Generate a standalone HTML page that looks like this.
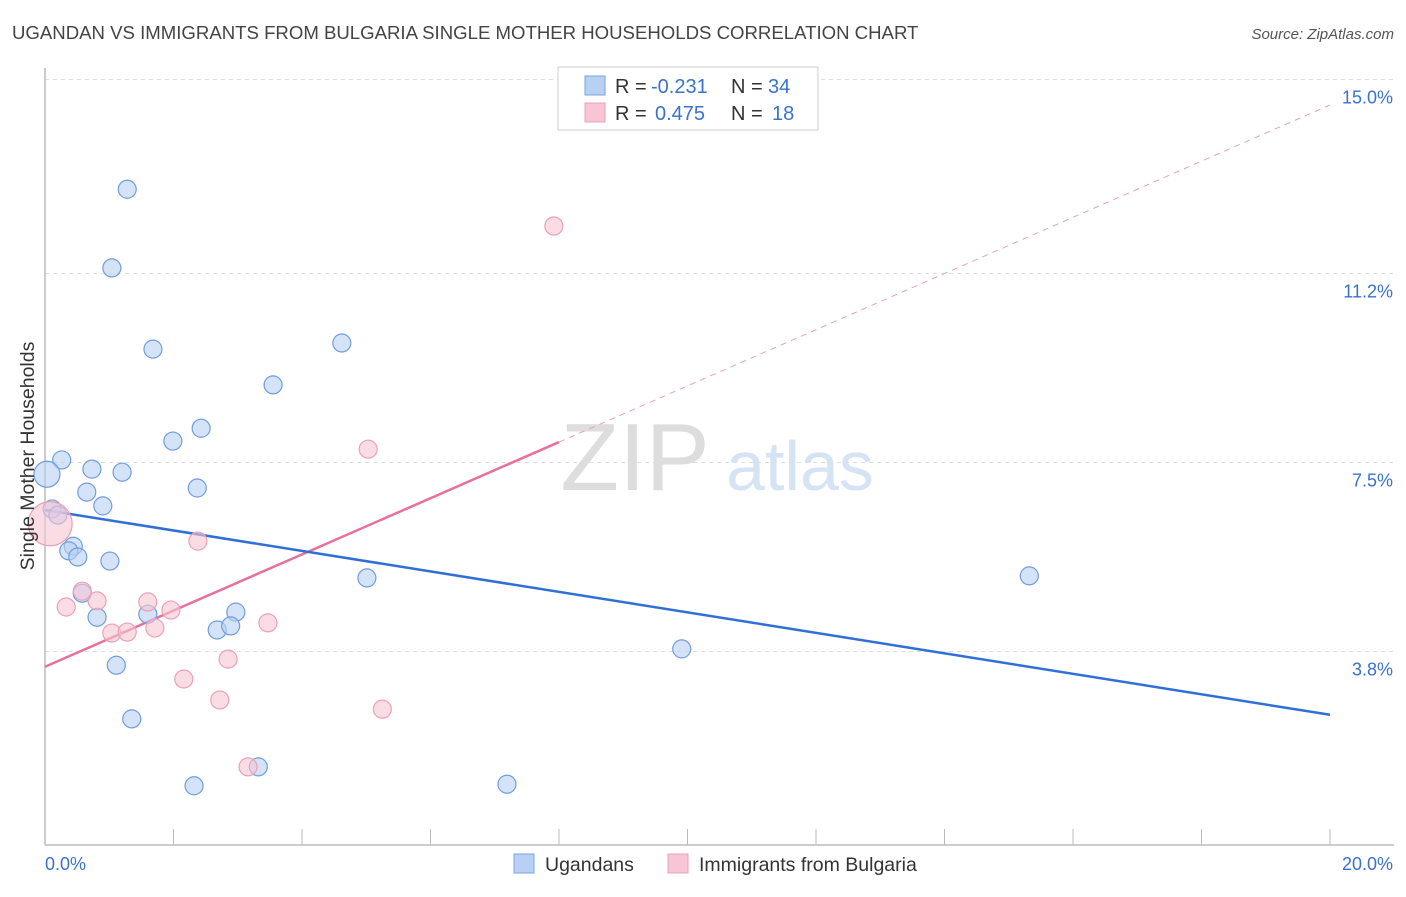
<!DOCTYPE html>
<html><head><meta charset="utf-8"><style>
body{margin:0;background:#fff;font-family:"Liberation Sans",sans-serif}
svg text{font-family:"Liberation Sans",sans-serif}
</style></head><body>
<svg width="1406" height="892" viewBox="0 0 1406 892" xmlns="http://www.w3.org/2000/svg">
<text x="12" y="39" font-size="18.6" fill="#444">UGANDAN VS IMMIGRANTS FROM BULGARIA SINGLE MOTHER HOUSEHOLDS CORRELATION CHART</text>
<text x="1394" y="39" font-size="15" fill="#555" text-anchor="end" font-style="italic">Source: ZipAtlas.com</text>
<text x="635" y="490" font-size="96" fill="#ddd" text-anchor="middle" font-family="Liberation Serif">ZIP</text>
<text x="800" y="490" font-size="70" fill="#d6e3f5" text-anchor="middle">atlas</text>
<g id="grid"></g>
<g id="axes"></g>
<g id="lines"></g>
<g id="pts"></g>
<text transform="translate(34,456) rotate(-90)" font-size="19.5" fill="#333" text-anchor="middle">Single Mother Households</text>
<g>
<rect x="558" y="67" width="260" height="63" fill="#fff" stroke="#ccc"/>
<rect x="585" y="76" width="20" height="19" fill="#b8d0f2" stroke="#7aa3e0"/>
<text x="615" y="93" font-size="20" fill="#333">R =</text>
<text x="651" y="93" font-size="20" fill="#3a72d0">-0.231</text>
<text x="731" y="93" font-size="20" fill="#333">N =</text>
<text x="768" y="93" font-size="20" fill="#3a72d0">34</text>
<rect x="585" y="103" width="20" height="19" fill="#f7c5d3" stroke="#eca0b8"/>
<text x="615" y="120" font-size="20" fill="#333">R =</text>
<text x="655" y="120" font-size="20" fill="#3a72d0">0.475</text>
<text x="731" y="120" font-size="20" fill="#333">N =</text>
<text x="772" y="120" font-size="20" fill="#3a72d0">18</text>
</g>
<g>
<rect x="514" y="854" width="20" height="19" fill="#b8d0f2" stroke="#7aa3e0"/>
<text x="545" y="871" font-size="19.5" fill="#333">Ugandans</text>
<rect x="668" y="854" width="20" height="19" fill="#f7c5d3" stroke="#eca0b8"/>
<text x="699" y="871" font-size="19.5" fill="#333">Immigrants from Bulgaria</text>
</g>
</svg>
<script>
const yTicks=[3.8,7.5,11.2,15.0];
const yTickLabels=["3.8%","7.5%","11.2%","15.0%"];
const xTickLabels=["0.0%","20.0%"];
const blueX=[1.28,1.04,1.68,4.62,3.55,2.43,1.99,0.26,0.73,1.20,0.03,0.65,2.37,0.90,0.11,0.20,0.44,0.37,0.51,1.01,5.01,15.32,0.58,0.81,1.60,2.97,2.68,2.89,9.91,1.11,1.35,3.32,2.32,7.19];
const blueY=[12.85,11.31,9.72,9.84,9.02,8.17,7.92,7.55,7.37,7.31,7.27,6.92,7.00,6.65,6.59,6.47,5.86,5.77,5.65,5.57,5.24,5.28,4.94,4.47,4.53,4.57,4.22,4.30,3.85,3.53,2.48,1.54,1.17,1.20];
const blueR=[9,9,9,9,9,9,9,9,9,9,13,9,9,9,9,9,9,9,9,9,9,9,9,9,9,9,9,9,9,9,9,9,9,9];
const pinkX=[7.92,5.03,2.38,0.08,0.58,0.33,0.81,1.60,1.96,1.71,1.04,1.28,3.47,2.85,2.16,2.72,5.25,3.16];
const pinkY=[12.13,7.76,5.96,6.30,4.98,4.67,4.79,4.77,4.61,4.26,4.16,4.18,4.36,3.65,3.26,2.85,2.67,1.54];
const pinkR=[9,9,9,22,9,9,9,9,9,9,9,9,9,9,9,9,9,9];
const blueTrend=[6.57,2.56];
const pinkTrend=[3.50,14.50];
const pinkSolidEnd=8.0;
const NS="http://www.w3.org/2000/svg";
const X=v=>45+v/20*1285;
const Y=v=>654-(v-3.75)*51.07;
function mk(p,t,a){const e=document.createElementNS(NS,t);for(const k in a)e.setAttribute(k,a[k]);document.getElementById(p).appendChild(e);return e;}
yTicks.forEach((t,i)=>{
 const g=mk('grid','line',{x1:45,x2:1394,y1:Y(t),y2:Y(t),stroke:'#ddd','stroke-dasharray':'4,4'});
 
 
 const l=mk('grid','text',{x:1393,y:Y(t)+24,'font-size':18,fill:'#3a72d0','text-anchor':'end'});
 l.textContent=yTickLabels[i];
 
 
});
const ax=mk('axes','line',{x1:45,x2:45,y1:68,y2:845,stroke:'#bbb','stroke-width':1.5});


const bx=mk('axes','line',{x1:45,x2:1394,y1:845,y2:845,stroke:'#bbb','stroke-width':1.5});


for(let i=0;i<=10;i++){const t=mk('axes','line',{x1:X(i*2),x2:X(i*2),y1:829,y2:845,stroke:'#bbb'});
 
 }
[[0,45,'start'],[20,1393,'end']].forEach((d,i)=>{const l=mk('axes','text',{x:d[1],y:870,'font-size':18,fill:'#3a72d0','text-anchor':d[2]});l.textContent=xTickLabels[i];
 
 });
function pts(xs,ys,rs,fill,stroke,name){xs.forEach((x,i)=>{const c=mk('pts','circle',{cx:X(x),cy:Y(ys[i]),r:rs[i],fill:fill,'fill-opacity':0.6,stroke:stroke,'stroke-width':1.2});
 
 });}
pts(blueX,blueY,blueR,'#b8d0f2','#6f9de0','ugandans-point');
pts(pinkX,pinkY,pinkR,'#f7c5d3','#eca0b8','bulgaria-point');
const pAt=x=>pinkTrend[0]+(pinkTrend[1]-pinkTrend[0])*x/20;
const pd=mk('lines','line',{x1:X(pinkSolidEnd),y1:Y(pAt(pinkSolidEnd)),x2:X(20),y2:Y(pinkTrend[1]),stroke:'#e8a0b8','stroke-dasharray':'6,5'});


const ps=mk('lines','line',{x1:X(0),y1:Y(pinkTrend[0]),x2:X(pinkSolidEnd),y2:Y(pAt(pinkSolidEnd)),stroke:'#e8709a','stroke-width':2.5});


const bl=mk('lines','line',{x1:X(0),y1:Y(blueTrend[0]),x2:X(20),y2:Y(blueTrend[1]),stroke:'#2f6fd6','stroke-width':2.5});


</script>
</body></html>
